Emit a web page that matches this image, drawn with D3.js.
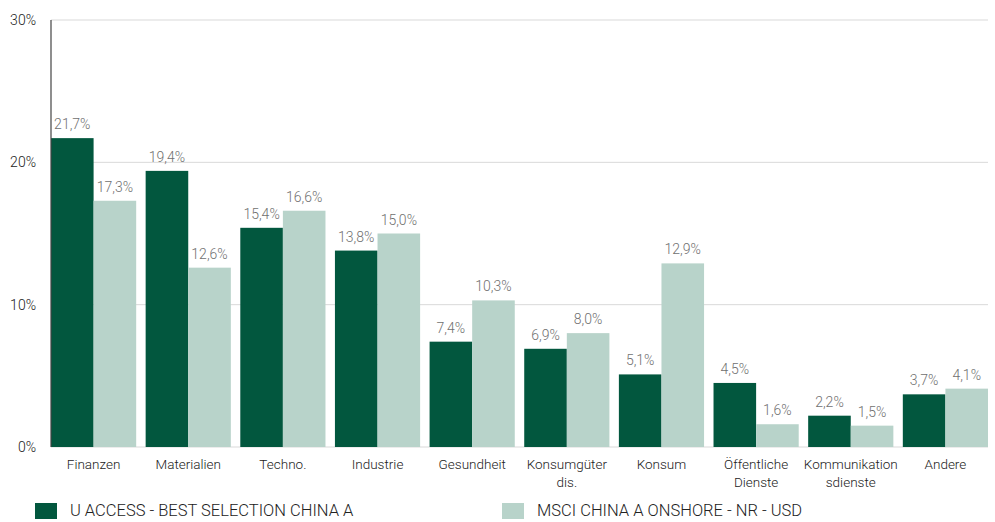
<!DOCTYPE html>
<html>
<head>
<meta charset="utf-8">
<script src="https://cdn.jsdelivr.net/npm/d3@7"></script>
<style>
    body { margin: 0; background: #fff; }
    svg { display: block; font-family: Roboto, "Liberation Sans", sans-serif; font-weight: 300; }
</style>
</head>
<body>
<div id="chart"></div>
<script>
// Sector allocation: fund vs. benchmark, grouped bars

const categories = ['Finanzen', 'Materialien', 'Techno.', 'Industrie', 'Gesundheit', 'Konsumgüter\ndis.', 'Konsum', 'Öffentliche\nDienste', 'Kommunikation\nsdienste', 'Andere'];
const fundValues = [21.7, 19.4, 15.4, 13.8, 7.4, 6.9, 5.1, 4.5, 2.2, 3.7];
const benchValues = [17.3, 12.6, 16.6, 15.0, 10.3, 8.0, 12.9, 1.6, 1.5, 4.1];
const seriesNames = ['U ACCESS - BEST SELECTION CHINA A', 'MSCI CHINA A ONSHORE - NR - USD'];
const yTicks = [0, 10, 20, 30];

(function () {
    const W = 995, H = 522;
    const m = { left: 51, right: 7, top: 20, bottom: 75 };
    const COLORS = ['#02573e', '#b8d3ca'];

    const svg = d3.select('#chart').append('svg').attr('width', W).attr('height', H);

    const x = d3.scaleBand().domain(categories).range([m.left, W - m.right]).paddingInner(0.1).paddingOuter(0);
    const xs = d3.scaleBand().domain([0, 1]).range([0, x.bandwidth()]);
    const y = d3.scaleLinear().domain([0, 30]).range([H - m.bottom, m.top]);

    const fmt = v => d3.format('.1f')(v).replace('.', ',') + '%';

    // gridlines
    svg.append('g').selectAll('line').data(yTicks).enter().append('line')
        .attr('x1', m.left).attr('x2', W - m.right)
        .attr('y1', d => y(d)).attr('y2', d => y(d))
        .attr('stroke', '#d9d9d9').attr('stroke-width', 1);

    // y axis labels
    svg.append('g').selectAll('text').data(yTicks).enter().append('text')
        .attr('x', 36).attr('y', d => y(d) + 5)
        .attr('text-anchor', 'end').attr('fill', '#222').style('font-size', '14px')
        .text(d => d + '%');

    const rows = categories.map((c, i) => ({ cat: c, vals: [fundValues[i], benchValues[i]] }));

    const groups = svg.append('g').selectAll('g').data(rows).enter().append('g')
        .attr('transform', d => `translate(${x(d.cat)},0)`);

    groups.selectAll('rect').data(d => d.vals.map((v, k) => ({ v, k }))).enter().append('rect')
        .attr('x', d => xs(d.k)).attr('width', xs.bandwidth())
        .attr('y', d => y(d.v)).attr('height', d => y(0) - y(d.v))
        .attr('fill', d => COLORS[d.k]);

    groups.selectAll('text.val').data(d => d.vals.map((v, k) => ({ v, k }))).enter().append('text')
        .attr('class', 'val')
        .attr('x', d => xs(d.k) + xs.bandwidth() / 2).attr('y', d => y(d.v) - 9)
        .attr('text-anchor', 'middle').attr('fill', '#707070').style('font-size', '14px')
        .text(d => fmt(d.v));

    // y axis line
    svg.append('line').attr('x1', m.left).attr('x2', m.left).attr('y1', y(30)).attr('y2', y(0))
        .attr('stroke', '#444').attr('stroke-width', 1.2);

    // category labels
    groups.each(function (d) {
        const t = d3.select(this).append('text')
            .attr('text-anchor', 'middle').attr('fill', '#222').style('font-size', '13.5px');
        d.cat.split('\n').forEach((line, li) => {
            t.append('tspan').attr('x', x.bandwidth() / 2).attr('y', y(0) + 22 + li * 18).text(line);
        });
    });

    // legend
    const legendX = [35, 502];
    seriesNames.forEach((name, k) => {
        const g = svg.append('g').attr('transform', `translate(${legendX[k]},503)`);
        g.append('rect').attr('width', 22).attr('height', 16).attr('fill', COLORS[k]);
        g.append('text').attr('x', 35).attr('y', 13).attr('fill', '#222').style('font-size', '16.5px').text(name);
    });
})();
</script>
</body>
</html>
